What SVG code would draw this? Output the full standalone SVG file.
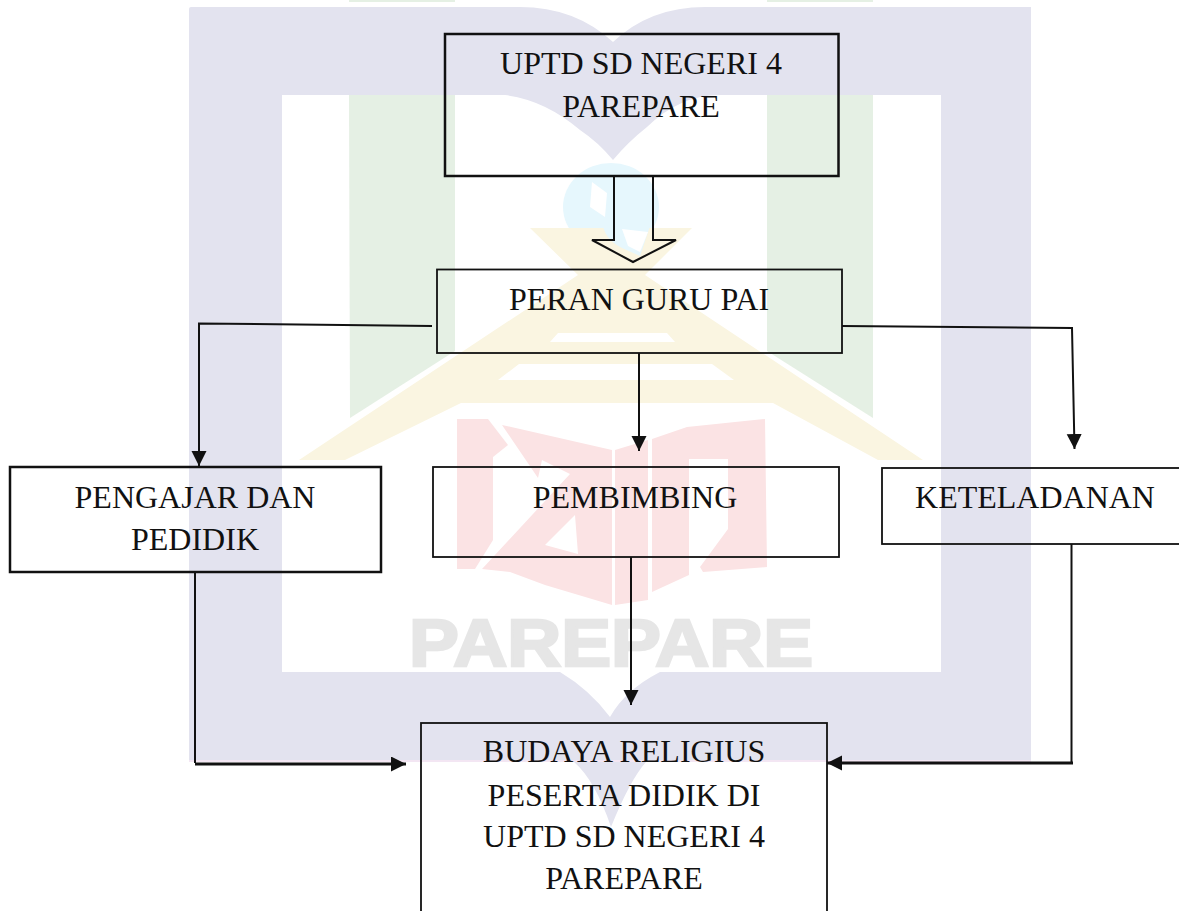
<svg xmlns="http://www.w3.org/2000/svg" width="1179" height="911" viewBox="0 0 1179 911">
<style>
.box{fill:none;stroke:#111;stroke-width:2.500}
.thin{stroke-width:1.800}
.t{font-family:"Liberation Serif","Times New Roman",serif;font-size:32px;fill:#111;text-anchor:middle}
.c{fill:none;stroke:#111;stroke-width:2}
.h{stroke-width:3}
.lav{fill:#e3e3ef}.grn{fill:#e5f0e4}.yel{fill:#faf5e1}.red{fill:#fbe3e4}.wht{fill:#fff}
</style>
<defs>
<marker id="ah" markerUnits="userSpaceOnUse" markerWidth="16" markerHeight="16" refX="15" refY="7.500" orient="auto"><path d="M0 0L15 7.500L0 15Z" fill="#111"/></marker>
</defs>
<rect width="1179" height="911" fill="#fff"/>
<g id="watermark">
<rect class="grn" x="349" y="0" width="106" height="2"/>
<rect class="grn" x="767" y="0" width="106" height="2"/>
<path class="lav" fill-rule="evenodd" d="M189 9Q189 7 191 7L520 7Q575 7 613 42Q650 7 705 7L1031 7L1031 762L646 762Q630 780 611 827Q595 780 574 762L189 762ZM282 95L282 672L560 672Q590 690 610 717Q625 690 660 672L941 672L941 95L720 95Q680 95 647 127Q628 142 613 160Q598 142 580 130Q545 100 505 95Z"/>
<path class="grn" d="M349 95H455V351L350 418Z"/>
<path class="grn" d="M767 95H873V418L767 351Z"/>
<ellipse cx="611" cy="207" rx="48" ry="44" fill="#e6f7fd"/>
<path class="yel" fill-rule="evenodd" d="M530 228H692L645 275L923 460H878L773 403H461L345 460H299L578 275ZM558 333L550 342H675L667 333ZM519 364L498 380H734L712 364Z"/>
<path d="M603 226Q640 222 650 226L640 256L622 248Q606 240 603 226Z" fill="#e6f7fd"/>
<path class="wht" d="M592 182L607 193L605 217L590 207ZM622 229L648 232L640 252L628 246Z"/>
<path class="red" d="M457 419H488L508 445L493 457V540L475 569H457Z"/>
<path class="red" fill-rule="evenodd" d="M502 425L612 450V605L545 585L510 572L482 569L570 474L542 460L538 478ZM575 515L545 545L578 554Z"/>
<path class="red" d="M615 450L648 440V600L615 605Z"/>
<path class="red" d="M652 439L687 427L765 419L767 567L703 572L700 567L728 529V459H689V575L652 592Z"/>
<text x="611" y="666" text-anchor="middle" textLength="404" lengthAdjust="spacingAndGlyphs" font-family="Liberation Sans, Arial, sans-serif" font-weight="700" font-size="67" fill="#e6e6e6" stroke="#e6e6e6" stroke-width="2.500">PAREPARE</text>
<rect x="189" y="760" width="842" height="2" fill="#f3e6f3"/>
</g>
<g id="connectors">
<path class="c" d="M614 175V240H592L633 262L676 240H653V175"/>
<path class="c" d="M432 326L199 323.500V466" marker-end="url(#ah)"/>
<path class="c" d="M639 353V451" marker-end="url(#ah)"/>
<path class="c" d="M842 326L1072 328L1074.500 449" marker-end="url(#ah)"/>
<path class="c" d="M195 572V763"/>
<path class="c h" d="M195 764H406" marker-end="url(#ah)"/>
<path class="c" d="M631 557V705" marker-end="url(#ah)"/>
<path class="c" d="M1071.500 544V763"/>
<path class="c h" d="M1073 763H827" marker-end="url(#ah)"/>
</g>
<g id="node-uptd"><rect class="box" x="445" y="34" width="393.500" height="142"/><text class="t" x="641" y="74">UPTD SD NEGERI 4</text><text class="t" x="641" y="117">PAREPARE</text></g>
<g id="node-peran"><rect class="box thin" x="437" y="269.500" width="405" height="83.500"/><text class="t" x="639" y="310">PERAN GURU PAI</text></g>
<g id="node-pengajar"><rect class="box" x="10" y="467" width="371" height="105"/><text class="t" x="195" y="508">PENGAJAR DAN</text><text class="t" x="195" y="550">PEDIDIK</text></g>
<g id="node-pembimbing"><rect class="box thin" x="433" y="467" width="406" height="90"/><text class="t" x="635" y="508">PEMBIMBING</text></g>
<g id="node-keteladanan"><rect class="box thin" x="882" y="468" width="310" height="76"/><text class="t" x="1035" y="508">KETELADANAN</text></g>
<g id="node-budaya"><rect class="box thin" x="421" y="723" width="406" height="200"/><text class="t" x="624" y="762">BUDAYA RELIGIUS</text><text class="t" x="624" y="806">PESERTA DIDIK DI</text><text class="t" x="624" y="847">UPTD SD NEGERI 4</text><text class="t" x="624" y="889">PAREPARE</text></g>
</svg>
